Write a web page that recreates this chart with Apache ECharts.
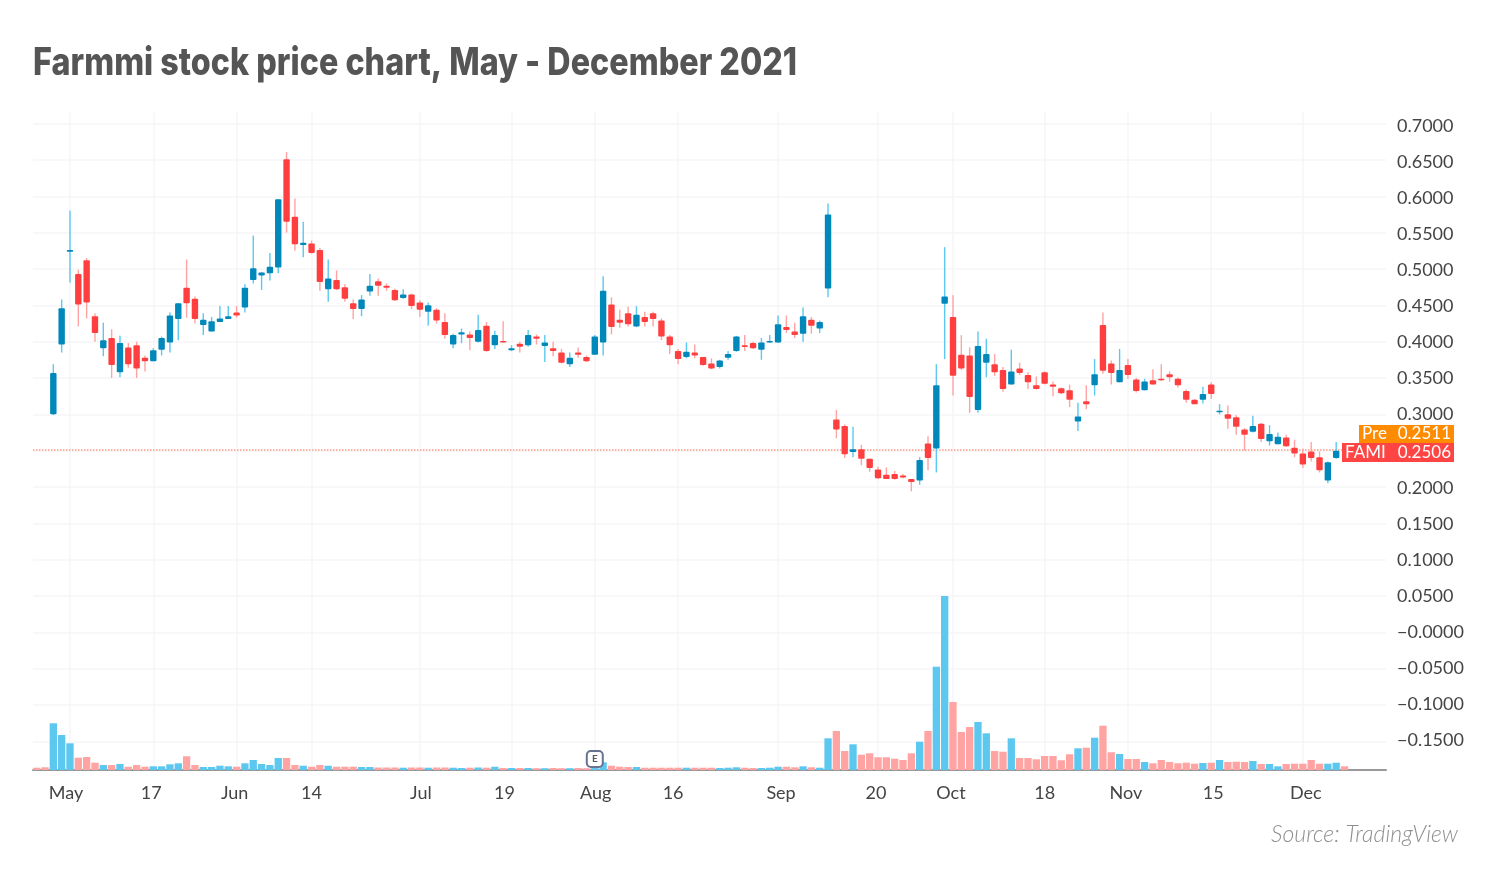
<!DOCTYPE html>
<html>
<head>
<meta charset="utf-8">
<title>Farmmi stock price chart</title>
<script src="https://cdn.jsdelivr.net/npm/echarts@6/dist/echarts.min.js"></script>
<style>
  html, body { margin: 0; padding: 0; background: #fff; }
  #main { width: 1500px; height: 874px; }
</style>
</head>
<body>
<div id="main"></div>
<script>
// trading days, 2021
const dates = [
  '04-27','04-28','04-29','04-30',
  '05-03','05-04','05-05','05-06','05-07','05-10','05-11','05-12','05-13','05-14',
  '05-17','05-18','05-19','05-20','05-21','05-24','05-25','05-26','05-27','05-28',
  '06-01','06-02','06-03','06-04','06-07','06-08','06-09','06-10','06-11',
  '06-14','06-15','06-16','06-17','06-18','06-21','06-22','06-23','06-24','06-25','06-28','06-29','06-30',
  '07-01','07-02','07-06','07-07','07-08','07-09','07-12','07-13','07-14','07-15','07-16',
  '07-19','07-20','07-21','07-22','07-23','07-26','07-27','07-28','07-29','07-30',
  '08-02','08-03','08-04','08-05','08-06','08-09','08-10','08-11','08-12','08-13',
  '08-16','08-17','08-18','08-19','08-20','08-23','08-24','08-25','08-26','08-27','08-30','08-31',
  '09-01','09-02','09-03','09-07','09-08','09-09','09-10','09-13','09-14','09-15','09-16','09-17',
  '09-20','09-21','09-22','09-23','09-24','09-27','09-28','09-29','09-30',
  '10-01','10-04','10-05','10-06','10-07','10-08','10-11','10-12','10-13','10-14','10-15',
  '10-18','10-19','10-20','10-21','10-22','10-25','10-26','10-27','10-28','10-29',
  '11-01','11-02','11-03','11-04','11-05','11-08','11-09','11-10','11-11','11-12',
  '11-15','11-16','11-17','11-18','11-19','11-22','11-23','11-24','11-26','11-29','11-30',
  '12-01','12-02','12-03','12-06','12-07','12-08'
];

const opens = [
  null,null,.300,.396,.524,.493,.512,.435,.391,.405,
  .358,.392,.395,.378,.373,.389,.399,.431,.474,.459,
  .423,.414,.427,.431,.440,.447,.485,.491,.494,.502,
  .651,.572,.533,.535,.526,.472,.485,.475,.453,.445,
  .469,.483,.477,.471,.460,.465,.454,.441,.444,.427,
  .396,.410,.410,.400,.422,.395,.401,.388,.397,.395,
  .407,.394,.391,.385,.369,.385,.379,.382,.399,.451,
  .430,.439,.421,.434,.439,.429,.407,.387,.379,.385,
  .379,.370,.365,.378,.387,.395,.398,.389,.399,.399,
  .420,.414,.411,.430,.418,.473,.293,.284,.248,.252,
  .239,.224,.217,.218,.216,.211,.209,.260,.253,.452,
  .434,.382,.381,.306,.371,.369,.361,.341,.363,.354,
  .340,.358,.341,.336,.333,.290,.318,.340,.423,.370,
  .344,.368,.348,.333,.347,.349,.355,.349,.332,.320,
  .320,.341,.303,.300,.296,.279,.276,.287,.263,.259,
  .268,.254,.246,.249,.241,.209,.240,null
];
const closes = [
  null,null,.357,.446,.526,.451,.454,.412,.402,.368,
  .398,.369,.363,.373,.388,.405,.436,.453,.453,.431,
  .430,.428,.432,.435,.436,.474,.501,.495,.503,.596,
  .565,.534,.536,.522,.482,.487,.472,.459,.445,.458,
  .477,.477,.474,.457,.465,.449,.444,.450,.429,.409,
  .409,.413,.405,.416,.387,.409,.399,.391,.393,.409,
  .404,.399,.387,.371,.378,.382,.373,.407,.470,.420,
  .426,.424,.437,.427,.431,.407,.395,.376,.386,.381,
  .368,.363,.374,.383,.407,.393,.391,.399,.401,.424,
  .416,.409,.435,.422,.427,.575,.279,.245,.252,.239,
  .226,.212,.211,.211,.213,.207,.237,.240,.340,.462,
  .353,.363,.324,.394,.383,.358,.335,.359,.357,.344,
  .335,.342,.338,.329,.320,.297,.314,.355,.360,.357,
  .361,.354,.332,.345,.341,.347,.351,.340,.320,.314,
  .328,.328,.305,.294,.283,.272,.284,.266,.273,.269,
  .256,.246,.231,.240,.223,.234,.250,null
];
const highs = [
  null,null,.369,.458,.580,.499,.515,.439,.426,.417,
  .408,.398,.400,.381,.391,.407,.440,.453,.513,.462,
  .439,.434,.449,.449,.449,.479,.546,.496,.522,.596,
  .661,.597,.565,.539,.529,.513,.498,.479,.458,.464,
  .493,.487,.480,.473,.472,.466,.457,.454,.446,.439,
  .411,.418,.414,.437,.427,.415,.428,.395,.400,.416,
  .410,.409,.400,.390,.385,.392,.381,.409,.490,.461,
  .444,.448,.449,.441,.441,.432,.409,.390,.399,.396,
  .379,.377,.375,.387,.408,.409,.400,.405,.409,.436,
  .436,.426,.447,.434,.429,.590,.306,.286,.283,.258,
  .239,.228,.227,.222,.218,.211,.241,.270,.369,.530,
  .464,.409,.392,.414,.404,.383,.365,.389,.371,.358,
  .352,.359,.345,.337,.341,.316,.340,.376,.440,.374,
  .390,.376,.350,.349,.362,.369,.359,.351,.334,.321,
  .338,.344,.314,.312,.299,.281,.298,.288,.285,.275,
  .272,.265,.253,.262,.249,.235,.262,null
];
const lows = [
  null,null,.299,.385,.481,.421,.432,.400,.380,.350,
  .351,.364,.350,.359,.373,.381,.385,.402,.433,.425,
  .409,.414,.427,.431,.433,.440,.480,.471,.484,.494,
  .550,.525,.516,.521,.470,.455,.471,.455,.431,.435,
  .463,.463,.470,.456,.459,.445,.434,.422,.425,.404,
  .391,.398,.388,.399,.386,.390,.399,.387,.385,.393,
  .396,.372,.380,.370,.365,.378,.372,.382,.381,.410,
  .419,.421,.420,.421,.421,.402,.383,.369,.377,.377,
  .367,.362,.363,.375,.386,.387,.390,.375,.398,.398,
  .412,.405,.400,.411,.412,.461,.267,.240,.241,.230,
  .221,.211,.211,.210,.212,.194,.203,.223,.220,.376,
  .326,.361,.302,.302,.351,.353,.331,.341,.354,.335,
  .334,.341,.325,.328,.310,.277,.307,.326,.356,.341,
  .344,.349,.330,.333,.341,.346,.345,.337,.316,.314,
  .315,.321,.300,.280,.272,.250,.275,.262,.257,.259,
  .255,.241,.226,.235,.220,.205,.239,null
];
// volume, millions of shares
const volumes = [
  2.3,2.7,46.7,35,26.7,12.3,13,7.3,5,5,
  6,3.3,5,3.3,3.7,3.7,5.7,6.7,13.7,5,
  3,3,4.3,3.7,3.3,6.7,10,6,5,12,
  12,5,4.3,3.3,5,4.3,3.3,3.3,3.3,3,
  3,2.5,2.5,2.5,2.3,2.5,2.5,2.3,2.5,2.5,
  2.3,2,2.3,2.5,2.3,3.3,2,2,2,2,
  1.8,1.8,2,1.8,1.8,2,1.8,5,7.7,4.3,
  3.3,3,3,2.3,2.3,2.3,2.3,2.3,2.3,2.3,
  2.3,2.3,2,2.3,2.7,2.3,2,2,2.3,3.3,
  3.3,2.7,3.7,2.7,2.3,31.7,39,19,25.7,15.3,
  16.7,12.7,12.7,11.3,10,16.7,28.3,39,103.3,174,
  68,38,43,48,36.7,19,18.3,31.7,12,12,
  10.7,14,14,9.7,15.7,21.7,22.3,32.3,44.3,17.7,
  16,11,11,8,6.7,10,8,6.7,7.3,6.3,
  7,7.3,10,8,8.3,8,9,6,6,3.7,
  6,6.3,6.3,10,6.3,6.3,7.3,3.7
];

const priceTicks = [0.7,0.65,0.6,0.55,0.5,0.45,0.4,0.35,0.3,0.25,0.2,0.15,0.1,0.05,0,-0.05,-0.1,-0.15];
const priceTickLabels = ['0.7000','0.6500','0.6000','0.5500','0.5000','0.4500','0.4000','0.3500','0.3000','',
  '0.2000','0.1500','0.1000','0.0500','\u22120.0000','\u22120.0500','\u22120.1000','\u22120.1500'];
const dateTicks = ['05-03','05-17','06-01','06-14','07-01','07-19','08-02','08-16','09-01','09-20','10-01','10-18','11-01','11-15','12-01'];
const dateTickLabels = ['May','17','Jun','14','Jul','19','Aug','16','Sep','20','Oct','18','Nov','15','Dec'];

// tradingview nudges its labels off the gridlines, px
const dateLabelNudge = [-4,-2,-2,0,1,-7,1,-5,3,-2,-2,0,-2,2,3];
const priceLabelNudge = [3,2,2,2,1,1,1,0,0,0,1,1,1,0,0,-1,-1,-1];

const lastPrice = 0.2506;
const preLabel = ['Pre', '0.2511'];
const lastLabel = ['FAMI', '0.2506'];
const earningsDate = '08-02';

const blue = '#0088bb', blueLight = '#5cc8f0';
const red = '#ff3f3f', redLight = '#ffa3a3';

const gridLeft = 33, gridTop = 112, gridWidth = 1353, gridHeight = 658;
const xMin = -0.44, xMax = 161.98, yMin = -0.1894, yMax = 0.716;
const pxPerIndex = gridWidth / (xMax - xMin);
const pxPerPrice = gridHeight / (yMax - yMin);

const dateIndex = dateTicks.map(d => dates.indexOf(d));
const dateLabelAt = dateIndex.map((v, i) => v + dateLabelNudge[i] / pxPerIndex);
const priceLabelAt = priceTicks.map((v, i) => v - priceLabelNudge[i] / pxPerPrice);

let chart = echarts.init(document.getElementById('main'));

let isUp = i => closes[i] != null && closes[i] >= opens[i];

let renderCandle = (params, api) => {
  let i = api.value(0);
  if (opens[i] == null) return;
  let up = isUp(i);
  let x = api.coord([i, 0])[0];
  let top = api.coord([i, Math.max(opens[i], closes[i])])[1];
  let bottom = api.coord([i, Math.min(opens[i], closes[i])])[1];
  let hi = api.coord([i, api.value(3)])[1];
  let lo = api.coord([i, api.value(4)])[1];
  return {
    type: 'group',
    children: [
      {
        type: 'line',
        shape: { x1: x, y1: hi, x2: x, y2: lo },
        style: { stroke: up ? blueLight : redLight, lineWidth: 1.4 },
      },
      {
        type: 'rect',
        shape: { x: x - 3.2, y: top, width: 6.4, height: Math.max(bottom - top, 1.6), r: 1 },
        style: { fill: up ? blue : red },
      },
    ],
  };
};

let tag = (y, x, h, color, texts) => ({
  type: 'group',
  children: [
    { type: 'rect', z: 100, shape: { x: x, y: y, width: 1454 - x, height: h }, style: { fill: color } },
    { type: 'text', z: 101, x: x + 3, y: y + h / 2, style: { text: texts[0], fill: '#fff', font: '17px Lato', textVerticalAlign: 'middle' } },
    { type: 'text', z: 101, x: 1451, y: y + h / 2, style: { text: texts[1], fill: '#fff', font: '17px Lato', textAlign: 'right', textVerticalAlign: 'middle' } },
  ],
});

chart.setOption({
  animation: false,
  backgroundColor: '#fff',
  title: {
    text: 'Source: TradingView',
    right: 37,
    top: 818,
    textStyle: { fontFamily: 'Lato', fontSize: 23, fontWeight: 300, fontStyle: 'italic', color: '#8f8f8f' },
  },
  grid: { left: gridLeft, top: gridTop, width: gridWidth, height: gridHeight },
  xAxis: {
    type: 'value',
    min: xMin,
    max: xMax,
    axisLine: { onZero: false, lineStyle: { color: '#999', width: 2 } },
    axisTick: { show: false, customValues: dateIndex },
    splitLine: { show: true, lineStyle: { color: '#f6f6f8', width: 1.5 } },
    axisLabel: {
      customValues: dateLabelAt,
      margin: 14,
      color: '#444',
      fontFamily: 'Lato',
      fontSize: 18,
      formatter: v => dateTickLabels[dateLabelAt.findIndex(t => Math.abs(t - v) < 1e-6)],
    },
  },
  yAxis: [
    {
      type: 'value',
      position: 'right',
      min: yMin,
      max: yMax,
      axisLine: { show: false },
      axisTick: { show: false, customValues: priceTicks },
      splitLine: { show: true, lineStyle: { color: '#f6f6f8', width: 1.5 } },
      axisLabel: {
        customValues: priceLabelAt,
        margin: 11,
        color: '#444',
        fontFamily: 'Lato',
        fontSize: 18,
        formatter: v => priceTickLabels[priceLabelAt.findIndex(t => Math.abs(t - v) < 1e-6)],
      },
    },
    { type: 'value', min: 0, max: gridHeight, show: false },
  ],
  graphic: [
    {
      type: 'text',
      x: 33,
      y: 64,
      scaleX: 0.85,
      style: {
        text: 'Farmmi stock price chart, May - December 2021',
        font: '800 38px Inter',
        fill: '#555',
        textVerticalAlign: 'middle',
      },
    },
    tag(425, 1359, 18, '#ff8c00', preLabel),
    tag(443, 1342, 19, '#ff4444', lastLabel),
  ],
  series: [
    {
      name: 'Volume',
      type: 'bar',
      yAxisIndex: 1,
      barWidth: 7.3,
      data: volumes.map((v, i) => ({
        value: [i, v],
        itemStyle: { color: isUp(i) ? blueLight : redLight },
      })),
      markPoint: {
        silent: true,
        symbol: 'roundRect',
        symbolSize: 16,
        itemStyle: { color: '#fff', borderColor: '#67738f', borderWidth: 2 },
        label: { show: true, formatter: 'E', color: '#556', fontSize: 10, fontWeight: 'bold', fontFamily: 'Lato' },
        data: [{ coord: [dates.indexOf(earningsDate), 11] }],
      },
    },
    {
      name: 'FAMI',
      type: 'custom',
      renderItem: renderCandle,
      encode: { x: 0, y: [1, 2, 3, 4] },
      data: dates.map((d, i) => [i, opens[i], closes[i], highs[i], lows[i]]),
      z: 5,
      markLine: {
        silent: true,
        symbol: 'none',
        label: { show: false },
        lineStyle: { color: '#ff9c85', type: 'dotted', width: 1.5 },
        data: [[{ coord: [xMin, lastPrice] }, { coord: [156.7, lastPrice] }]],
      },
    },
  ],
});
</script>
</body>
</html>
